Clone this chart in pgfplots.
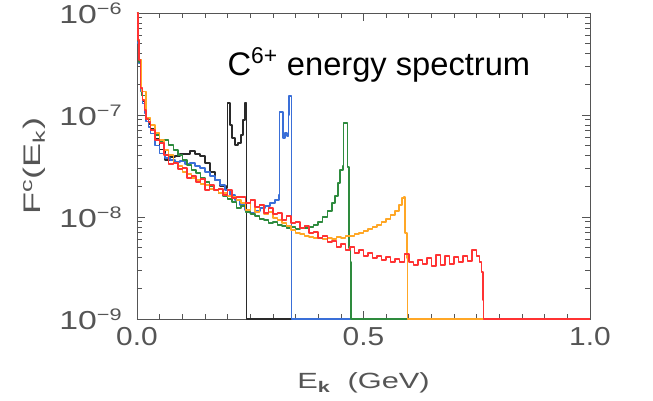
\documentclass[border=0pt]{standalone}
\usepackage{fontspec}
\setmainfont{Liberation Sans}
\newfontfamily\tickfont[FakeStretch=1.15]{Liberation Sans}
\newfontfamily\ytickfont[FakeStretch=1.3]{Liberation Sans}
\newfontfamily\labfont[FakeStretch=1.4]{Liberation Sans}
\newfontfamily\ylabfont[FakeStretch=1.5]{Liberation Sans}
\newcommand{\ytl}[1]{{\ytickfont\fontsize{19.5}{21}\selectfont 10\raisebox{0.35em}{\fontsize{12.5}{13}\selectfont −#1}}}
\usepackage{pgfplots}
\pgfplotsset{compat=1.18}
\definecolor{cblack}{HTML}{2A2A2A}
\definecolor{cblue}{HTML}{3A6FD8}
\definecolor{cgreen}{HTML}{2E8B3E}
\definecolor{corange}{HTML}{FFA726}
\definecolor{cred}{HTML}{FF3333}
\definecolor{labgray}{HTML}{555555}
\begin{document}
\begin{tikzpicture}
\path[use as bounding box] (-102.75pt,-60.75pt) rectangle (387pt,239.25pt);
\begin{axis}[
  at={(0,0)}, anchor=south west,
  scale only axis, width=339.75pt, height=229.5pt,
  xmin=0, xmax=1, ymode=log, ymin=1e-9, ymax=1e-6,
  clip=false,
  axis line style={labgray, line width=0.6pt},
  tick align=inside, major tick length=6pt, minor tick length=3.5pt,
  every tick/.style={labgray, line width=0.5pt},
  xtick={0,0.5,1}, xticklabels={0.0,0.5,1.0},
  minor xtick={0.05,0.1,0.15,0.2,0.25,0.3,0.35,0.4,0.45,0.55,0.6,0.65,0.7,0.75,0.8,0.85,0.9,0.95},
  ytick={1e-9,1e-8,1e-7,1e-6},
  yticklabels={\ytl{9},\ytl{8},\ytl{7},\ytl{6}},
  minor ytick={2e-9,3e-9,4e-9,5e-9,6e-9,7e-9,8e-9,9e-9,2e-8,3e-8,4e-8,5e-8,6e-8,7e-8,8e-8,9e-8,2e-7,3e-7,4e-7,5e-7,6e-7,7e-7,8e-7,9e-7},
  ticklabel style={font=\tickfont\fontsize{19.5}{21}\selectfont, text=labgray},
  xticklabel style={yshift=-3pt},
  yticklabel style={anchor=base east, xshift=-8pt, yshift=-8pt},
  xlabel={E\textsubscript{\textbf{k}}\ \ (GeV)},
  ylabel={F\textsuperscript{c}(E\textsubscript{k})},
  every axis x label/.style={at={(axis description cs:0.5,0)}, yshift=-48pt, anchor=center, font=\labfont\fontsize{16.5}{18}\selectfont, text=labgray},
  every axis y label/.style={at={(axis description cs:0,0.5)}, xshift=-77pt, anchor=center, rotate=90, font=\ylabfont\fontsize{18}{20}\selectfont, text=labgray},
  every axis plot/.append style={line width=1.1pt, line join=round, const plot},
]
% black
\addplot[cblack] table {
0 1e-6
0.002 5.2e-7
0.004 3.3e-7
0.008 1.8e-7
0.012 1.35e-7
0.016 1.1e-7
0.020 9.3e-8
0.025 8.2e-8
0.030 7.3e-8
0.040 5.8e-8
0.050 4.6e-8
0.062 3.62e-8
0.073 3.87e-8
0.084 3.96e-8
0.095 4.14e-8
0.106 4.14e-8
0.117 4.43e-8
0.128 4.14e-8
0.139 3.96e-8
0.150 3.38e-8
0.161 2.76e-8
0.172 2.31e-8
0.183 2.01e-8
0.194 1.92e-8
0.199 2.01e-8
0.200 1.31e-7
0.201 1.31e-7
0.205 7.97e-8
0.210 5.95e-8
0.216 5.09e-8
0.223 5.31e-8
0.230 6.36e-8
0.234 8.93e-8
0.238 1.31e-7
0.241 1.31e-7
0.2415 1e-9
1.0 1e-9
};
% blue
\addplot[cblue] table {
0 1e-6
0.002 5.0e-7
0.004 3.2e-7
0.008 1.7e-7
0.012 1.3e-7
0.016 1.05e-7
0.020 8.6e-8
0.025 7.6e-8
0.030 6.6e-8
0.040 5.0e-8
0.050 4.2e-8
0.062 3.78e-8
0.073 3.62e-8
0.084 3.46e-8
0.095 3.54e-8
0.106 3.31e-8
0.117 3.38e-8
0.128 3.16e-8
0.139 3.02e-8
0.150 2.76e-8
0.161 2.52e-8
0.172 2.31e-8
0.183 2.06e-8
0.194 1.84e-8
0.205 1.64e-8
0.216 1.47e-8
0.227 1.31e-8
0.238 1.17e-8
0.249 1.09e-8
0.260 1.14e-8
0.272 1.23e-8
0.283 1.28e-8
0.294 1.37e-8
0.305 1.47e-8
0.313 1.64e-8
0.314 1.07e-7
0.320 1.07e-7
0.322 5.95e-8
0.327 6.66e-8
0.331 6.23e-8
0.334 1.0e-7
0.336 1.54e-7
0.340 1.54e-7
0.3405 1e-9
1.0 1e-9
};
% green
\addplot[cgreen] table {
0 1e-6
0.002 5.3e-7
0.004 3.3e-7
0.010 1.55e-7
0.020 9.0e-8
0.030 7.2e-8
0.040 6.36e-8
0.050 5.44e-8
0.060 5.69e-8
0.070 5.09e-8
0.080 4.54e-8
0.090 4.05e-8
0.100 3.62e-8
0.110 3.23e-8
0.120 2.89e-8
0.130 2.70e-8
0.140 2.41e-8
0.150 2.20e-8
0.160 2.01e-8
0.170 1.84e-8
0.180 1.72e-8
0.190 1.61e-8
0.200 1.50e-8
0.210 1.40e-8
0.220 1.23e-8
0.230 1.28e-8
0.240 1.12e-8
0.250 1.07e-8
0.260 1.02e-8
0.270 9.58e-9
0.280 9.35e-9
0.290 8.74e-9
0.300 8.93e-9
0.310 8.36e-9
0.320 8.16e-9
0.330 7.82e-9
0.340 7.97e-9
0.350 7.64e-9
0.360 7.82e-9
0.370 7.82e-9
0.380 7.97e-9
0.390 8.36e-9
0.400 8.93e-9
0.410 1.0e-8
0.420 1.14e-8
0.430 1.37e-8
0.437 1.61e-8
0.444 2.15e-8
0.448 2.89e-8
0.455 3.16e-8
0.456 8.36e-8
0.464 8.36e-8
0.465 3.09e-8
0.467 3.09e-8
0.468 4.97e-9
0.471 3.62e-9
0.472 1e-9
1.0 1e-9
};
% orange
\addplot[corange] table {
0 1e-6
0.002 5.5e-7
0.004 3.5e-7
0.010 1.7e-7
0.020 9.3e-8
0.030 7.97e-8
0.040 6.66e-8
0.050 5.69e-8
0.060 4.54e-8
0.070 4.05e-8
0.080 3.38e-8
0.090 3.16e-8
0.100 2.76e-8
0.110 2.64e-8
0.120 2.41e-8
0.130 2.31e-8
0.140 2.10e-8
0.150 2.06e-8
0.160 1.88e-8
0.170 1.84e-8
0.180 1.72e-8
0.190 1.72e-8
0.200 1.61e-8
0.210 1.57e-8
0.220 1.47e-8
0.230 1.37e-8
0.240 1.17e-8
0.250 1.47e-8
0.260 1.12e-8
0.270 1.31e-8
0.280 1.07e-8
0.290 1.12e-8
0.300 9.78e-9
0.310 9.35e-9
0.320 8.74e-9
0.330 8.16e-9
0.340 7.47e-9
0.350 6.98e-9
0.360 6.82e-9
0.370 6.52e-9
0.380 6.36e-9
0.390 6.23e-9
0.400 6.23e-9
0.410 6.09e-9
0.420 6.23e-9
0.430 6.09e-9
0.440 6.36e-9
0.450 6.23e-9
0.460 6.52e-9
0.470 6.52e-9
0.480 6.82e-9
0.490 6.98e-9
0.500 7.30e-9
0.510 7.64e-9
0.520 7.97e-9
0.530 8.36e-9
0.540 8.93e-9
0.550 9.58e-9
0.560 1.05e-8
0.570 1.14e-8
0.578 1.31e-8
0.585 1.54e-8
0.589 1.57e-8
0.592 6.98e-9
0.596 3.96e-9
0.597 1e-9
1.0 1e-9
};
% red
\addplot[cred] table {
0.000 1.0e-6
0.002 5.44e-7
0.004 3.46e-7
0.008 1.84e-7
0.012 1.40e-7
0.016 1.12e-7
0.020 9.1e-8
0.025 8.55e-8
0.030 7.1e-8
0.040 5.69e-8
0.050 5.31e-8
0.060 4.05e-8
0.070 3.31e-8
0.080 3.38e-8
0.090 2.95e-8
0.100 3.02e-8
0.110 2.41e-8
0.120 2.52e-8
0.130 2.20e-8
0.140 2.36e-8
0.150 1.84e-8
0.160 2.06e-8
0.170 1.84e-8
0.180 1.88e-8
0.190 1.64e-8
0.200 1.84e-8
0.210 1.54e-8
0.220 1.57e-8
0.230 1.57e-8
0.240 1.37e-8
0.250 1.47e-8
0.260 1.25e-8
0.270 1.31e-8
0.280 1.09e-8
0.290 1.23e-8
0.300 1.07e-8
0.310 1.09e-8
0.320 9.35e-9
0.330 1.02e-8
0.340 8.74e-9
0.350 8.93e-9
0.360 7.82e-9
0.370 8.16e-9
0.380 6.98e-9
0.390 7.14e-9
0.400 6.23e-9
0.410 6.52e-9
0.420 5.69e-9
0.430 5.82e-9
0.440 5.09e-9
0.450 5.44e-9
0.460 4.75e-9
0.470 5.09e-9
0.480 4.43e-9
0.490 4.75e-9
0.500 4.14e-9
0.510 4.43e-9
0.520 3.96e-9
0.530 4.14e-9
0.540 3.78e-9
0.550 4.05e-9
0.560 3.62e-9
0.570 3.87e-9
0.580 3.62e-9
0.590 4.34e-9
0.600 3.62e-9
0.610 3.38e-9
0.620 3.78e-9
0.630 3.46e-9
0.640 3.96e-9
0.650 3.31e-9
0.660 4.24e-9
0.670 3.38e-9
0.680 4.14e-9
0.690 3.46e-9
0.700 4.05e-9
0.710 3.62e-9
0.720 4.14e-9
0.730 3.70e-9
0.740 4.75e-9
0.750 4.14e-9
0.756 3.62e-9
0.760 2.89e-9
0.764 1.54e-9
0.765 1e-9
1.0 1e-9
};
\node[anchor=base, font=\fontsize{24.5}{28}\selectfont] at (rel axis cs:0.534,0.797) {C\textsuperscript{6+} energy spectrum};
\end{axis}
\end{tikzpicture}
\end{document}
